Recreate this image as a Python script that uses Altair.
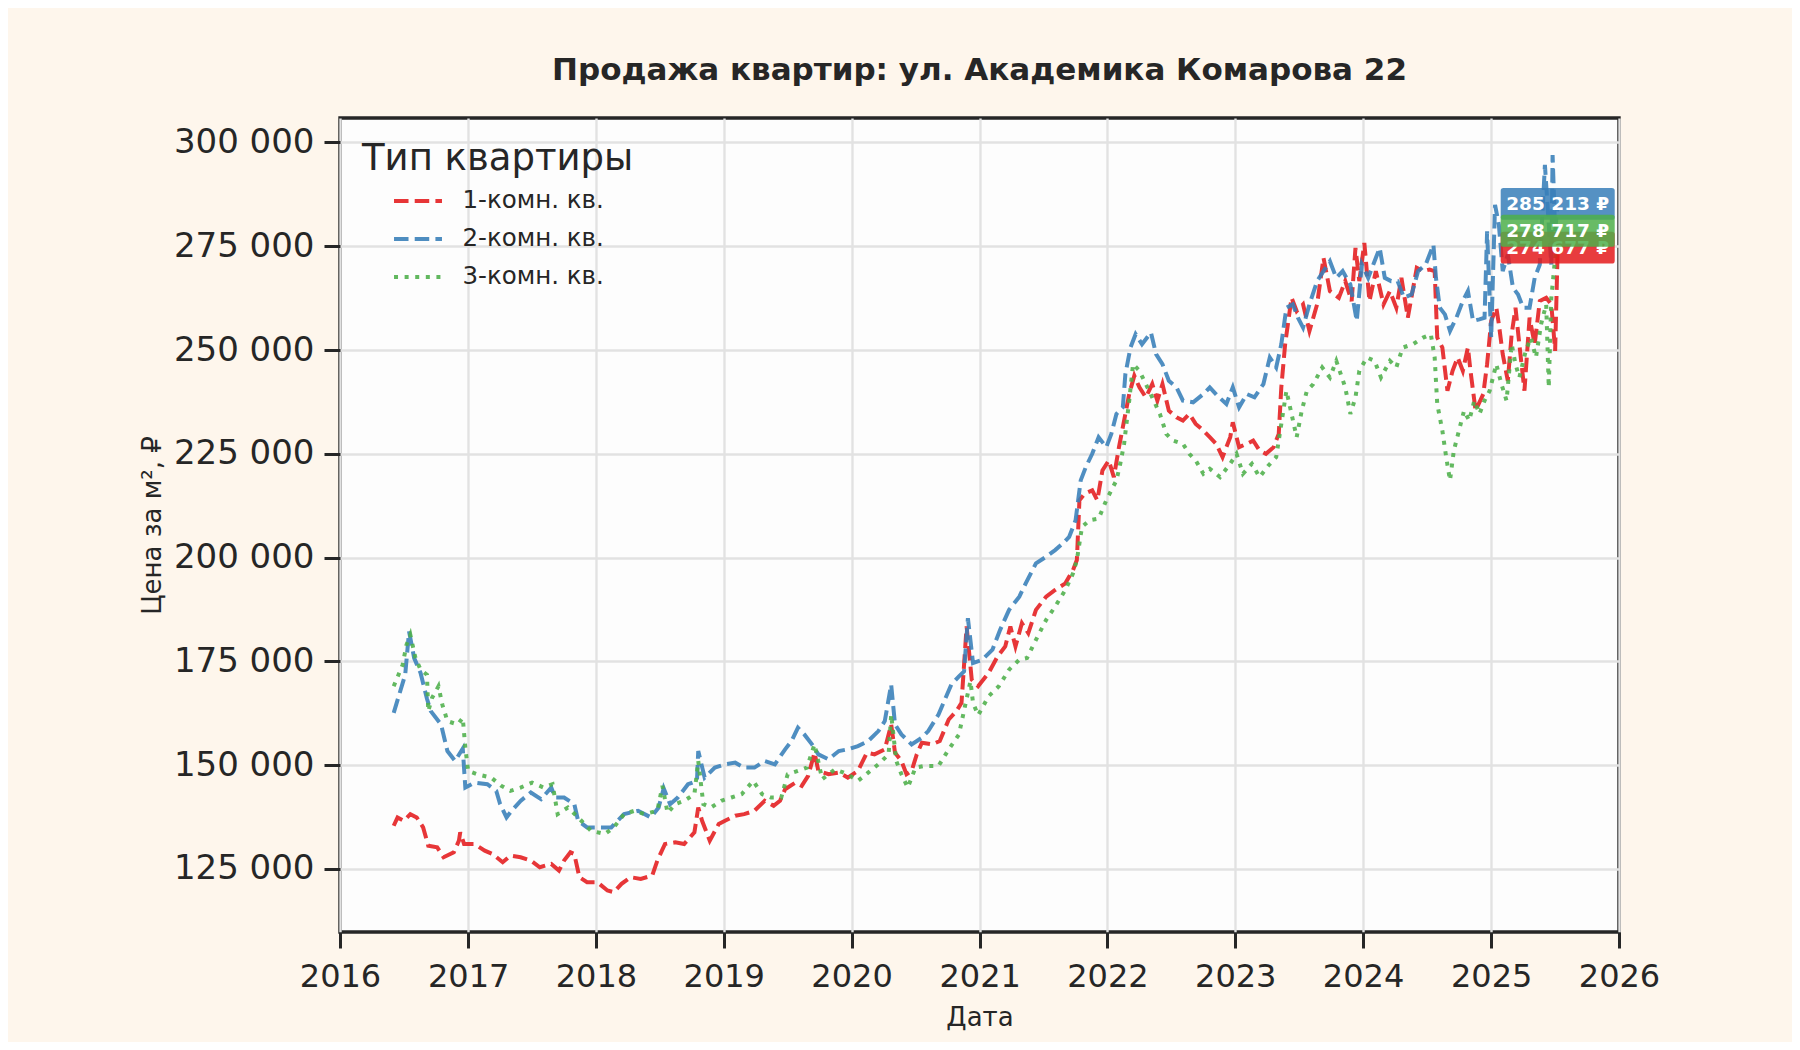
import altair as alt
import pandas as pd

# decimal year -> price per m2 (thousand roubles)
one_room_years = [
    2016.42, 2016.45, 2016.50, 2016.55, 2016.60, 2016.65, 2016.69, 2016.76, 2016.81, 2016.89,
    2016.93, 2016.94, 2016.97, 2017.05, 2017.13, 2017.19, 2017.27, 2017.33, 2017.41, 2017.49,
    2017.56, 2017.65, 2017.71, 2017.75, 2017.80, 2017.83, 2017.87, 2017.93, 2018.01, 2018.09,
    2018.14, 2018.20, 2018.27, 2018.35, 2018.44, 2018.48, 2018.54, 2018.62, 2018.69, 2018.77,
    2018.80, 2018.83, 2018.89, 2018.96, 2019.01, 2019.09, 2019.16, 2019.24, 2019.32, 2019.39,
    2019.44, 2019.48, 2019.56, 2019.61, 2019.66, 2019.71, 2019.74, 2019.82, 2019.90, 2019.97,
    2020.05, 2020.12, 2020.18, 2020.26, 2020.31, 2020.34, 2020.39, 2020.43, 2020.47, 2020.51,
    2020.55, 2020.63, 2020.69, 2020.76, 2020.82, 2020.86, 2020.90, 2020.94, 2020.99, 2021.07,
    2021.14, 2021.20, 2021.24, 2021.28, 2021.33, 2021.38, 2021.44, 2021.52, 2021.59, 2021.67,
    2021.73, 2021.76, 2021.78, 2021.82, 2021.88, 2021.92, 2021.96, 2022.01, 2022.05, 2022.09,
    2022.13, 2022.17, 2022.21, 2022.25, 2022.30, 2022.35, 2022.39, 2022.43, 2022.48, 2022.54,
    2022.59, 2022.64, 2022.69, 2022.75, 2022.80, 2022.85, 2022.90, 2022.96, 2022.98, 2023.03,
    2023.09, 2023.14, 2023.19, 2023.24, 2023.30, 2023.34, 2023.36, 2023.39, 2023.44, 2023.48,
    2023.53, 2023.58, 2023.64, 2023.69, 2023.74, 2023.81, 2023.86, 2023.91, 2023.94, 2023.97,
    2024.01, 2024.05, 2024.10, 2024.16, 2024.21, 2024.26, 2024.30, 2024.35, 2024.42, 2024.47,
    2024.52, 2024.56, 2024.58, 2024.62, 2024.66, 2024.70, 2024.74, 2024.78, 2024.82, 2024.84,
    2024.88, 2024.94, 2024.97, 2025.00, 2025.04, 2025.06, 2025.09, 2025.13, 2025.16, 2025.19,
    2025.22, 2025.26, 2025.30, 2025.34, 2025.38, 2025.43, 2025.47, 2025.50, 2025.52,
]
one_room_prices = [
    135.4, 137.4, 136.6, 138.2, 137.4, 135.0, 130.6, 130.2, 127.8, 129.0,
    131.8, 133.8, 131.0, 131.0, 129.4, 128.6, 126.6, 128.2, 127.8, 127.0,
    125.4, 126.2, 124.6, 127.0, 129.0, 128.6, 123.0, 121.8, 121.8, 119.8,
    119.4, 121.4, 123.0, 122.6, 123.4, 127.0, 131.0, 131.4, 131.0, 133.8,
    139.8, 136.6, 131.8, 135.8, 136.6, 137.8, 138.2, 139.0, 141.4, 140.2,
    141.4, 144.2, 145.8, 145.0, 147.4, 153.0, 148.6, 147.8, 148.2, 147.0,
    148.6, 153.0, 152.6, 153.8, 159.8, 153.0, 151.0, 147.8, 148.6, 152.6,
    155.4, 155.0, 155.8, 161.0, 163.0, 165.0, 183.4, 170.6, 169.0, 172.2,
    176.2, 178.6, 183.4, 178.6, 184.2, 181.8, 187.4, 190.6, 192.2, 193.8,
    197.0, 199.4, 213.8, 215.4, 216.2, 213.8, 221.0, 223.4, 219.4, 226.6,
    233.0, 239.4, 243.8, 241.0, 238.6, 241.8, 237.8, 241.8, 235.4, 233.8,
    233.0, 234.6, 232.2, 230.6, 229.0, 227.4, 224.2, 229.0, 232.6, 226.6,
    227.4, 228.2, 225.8, 225.0, 226.6, 229.8, 241.0, 251.4, 262.6, 259.4,
    261.0, 254.6, 261.0, 272.2, 264.2, 262.6, 266.6, 261.8, 274.6, 266.6,
    275.8, 261.8, 269.0, 261.0, 264.2, 260.2, 267.4, 257.8, 269.8, 269.0,
    269.4, 269.0, 253.0, 250.6, 240.2, 245.0, 248.2, 245.0, 250.6, 245.0,
    235.4, 239.4, 246.6, 257.0, 260.2, 256.2, 249.0, 242.6, 253.8, 260.2,
    251.4, 240.2, 257.8, 251.4, 261.8, 262.6, 261.0, 249.8, 274.677,
]

two_room_years = [
    2016.42, 2016.51, 2016.54, 2016.58, 2016.63, 2016.68, 2016.71, 2016.79, 2016.84, 2016.90,
    2016.96, 2016.98, 2017.05, 2017.15, 2017.22, 2017.25, 2017.30, 2017.34, 2017.41, 2017.49,
    2017.57, 2017.65, 2017.68, 2017.75, 2017.83, 2017.86, 2017.93, 2018.01, 2018.12, 2018.22,
    2018.33, 2018.43, 2018.49, 2018.53, 2018.58, 2018.64, 2018.72, 2018.79, 2018.80, 2018.85,
    2018.93, 2019.01, 2019.09, 2019.16, 2019.24, 2019.32, 2019.40, 2019.48, 2019.53, 2019.58,
    2019.63, 2019.69, 2019.74, 2019.82, 2019.90, 2019.97, 2020.05, 2020.13, 2020.21, 2020.26,
    2020.31, 2020.34, 2020.39, 2020.47, 2020.55, 2020.60, 2020.68, 2020.73, 2020.78, 2020.84,
    2020.88, 2020.91, 2020.95, 2021.02, 2021.10, 2021.16, 2021.23, 2021.31, 2021.36, 2021.44,
    2021.52, 2021.59, 2021.65, 2021.70, 2021.75, 2021.79, 2021.83, 2021.88, 2021.93, 2021.99,
    2022.03, 2022.07, 2022.12, 2022.14, 2022.18, 2022.22, 2022.27, 2022.34, 2022.38, 2022.43,
    2022.48, 2022.54, 2022.59, 2022.67, 2022.75, 2022.80, 2022.86, 2022.93, 2022.98, 2023.03,
    2023.09, 2023.15, 2023.22, 2023.27, 2023.32, 2023.36, 2023.40, 2023.45, 2023.49, 2023.53,
    2023.58, 2023.64, 2023.69, 2023.74, 2023.79, 2023.84, 2023.90, 2023.95, 2023.99, 2024.04,
    2024.09, 2024.13, 2024.17, 2024.22, 2024.27, 2024.32, 2024.38, 2024.43, 2024.49, 2024.55,
    2024.57, 2024.60, 2024.64, 2024.68, 2024.73, 2024.78, 2024.82, 2024.86, 2024.91, 2024.95,
    2024.97, 2025.00, 2025.03, 2025.06, 2025.09, 2025.13, 2025.17, 2025.21, 2025.25, 2025.30,
    2025.34, 2025.38, 2025.42, 2025.44, 2025.47, 2025.48, 2025.50, 2025.52,
]
two_room_prices = [
    162.6, 171.8, 182.2, 175.8, 172.2, 166.0, 163.0, 159.8, 153.4, 151.0,
    154.0, 144.6, 145.8, 145.4, 143.8, 140.6, 137.4, 139.0, 141.4, 143.4,
    141.8, 144.6, 142.2, 142.2, 140.6, 136.6, 135.0, 135.0, 135.0, 138.2,
    139.0, 137.4, 139.8, 144.4, 140.6, 142.2, 145.4, 146.2, 153.4, 147.0,
    149.4, 150.2, 150.6, 149.4, 149.4, 151.0, 150.2, 153.8, 155.8, 159.0,
    157.4, 155.0, 152.6, 151.4, 153.4, 153.8, 154.6, 155.8, 158.2, 160.6,
    169.4, 159.8, 157.4, 155.0, 156.6, 158.2, 162.2, 165.8, 169.4, 171.4,
    172.6, 185.4, 174.6, 175.4, 177.8, 182.6, 187.4, 190.6, 193.8, 198.6,
    200.2, 201.8, 203.4, 205.0, 209.0, 218.6, 221.8, 225.0, 229.0, 226.6,
    229.8, 234.6, 236.2, 244.2, 250.6, 253.8, 251.4, 254.2, 249.0, 246.6,
    242.6, 241.0, 237.8, 237.4, 239.4, 241.0, 239.0, 237.0, 241.0, 236.2,
    239.4, 238.6, 241.8, 248.2, 245.8, 251.4, 260.2, 261.0, 257.8, 255.4,
    261.0, 266.6, 269.0, 271.4, 267.4, 269.0, 265.8, 257.0, 270.6, 267.4,
    271.4, 274.6, 267.4, 266.6, 266.6, 262.6, 263.4, 269.0, 270.6, 275.4,
    267.4, 260.2, 258.6, 254.6, 257.8, 261.8, 264.2, 257.0, 257.4, 257.8,
    278.6, 253.0, 285.0, 280.2, 269.0, 273.0, 265.0, 263.4, 260.2, 260.2,
    267.4, 270.6, 294.6, 285.0, 270.6, 297.0, 278.6, 285.213,
]

three_room_years = [
    2016.42, 2016.49, 2016.52, 2016.55, 2016.59, 2016.63, 2016.68, 2016.69, 2016.72, 2016.77,
    2016.80, 2016.84, 2016.92, 2016.96, 2016.98, 2017.00, 2017.07, 2017.18, 2017.26, 2017.33,
    2017.41, 2017.50, 2017.59, 2017.66, 2017.70, 2017.78, 2017.86, 2017.96, 2018.07, 2018.14,
    2018.22, 2018.30, 2018.38, 2018.48, 2018.52, 2018.56, 2018.62, 2018.69, 2018.77, 2018.80,
    2018.84, 2018.90, 2018.98, 2019.06, 2019.14, 2019.23, 2019.30, 2019.37, 2019.45, 2019.50,
    2019.58, 2019.65, 2019.71, 2019.77, 2019.87, 2019.97, 2020.05, 2020.13, 2020.21, 2020.29,
    2020.31, 2020.35, 2020.39, 2020.44, 2020.50, 2020.57, 2020.68, 2020.76, 2020.84, 2020.89,
    2020.93, 2020.95, 2020.99, 2021.07, 2021.15, 2021.23, 2021.31, 2021.37, 2021.44, 2021.52,
    2021.59, 2021.67, 2021.73, 2021.76, 2021.80, 2021.86, 2021.93, 2021.99, 2022.03, 2022.07,
    2022.10, 2022.13, 2022.17, 2022.20, 2022.25, 2022.30, 2022.35, 2022.41, 2022.46, 2022.51,
    2022.59, 2022.64, 2022.69, 2022.75, 2022.80, 2022.88, 2022.96, 2023.01, 2023.06, 2023.13,
    2023.19, 2023.26, 2023.32, 2023.36, 2023.40, 2023.44, 2023.48, 2023.52, 2023.56, 2023.61,
    2023.68, 2023.74, 2023.79, 2023.86, 2023.90, 2023.94, 2023.97, 2024.03, 2024.09, 2024.14,
    2024.21, 2024.26, 2024.31, 2024.39, 2024.47, 2024.53, 2024.56, 2024.58, 2024.62, 2024.65,
    2024.68, 2024.71, 2024.75, 2024.79, 2024.83, 2024.87, 2024.91, 2024.95, 2024.99, 2025.04,
    2025.08, 2025.12, 2025.16, 2025.19, 2025.22, 2025.27, 2025.31, 2025.35, 2025.39, 2025.43,
    2025.45, 2025.47, 2025.49, 2025.52,
]
three_room_prices = [
    169.0, 174.2, 179.0, 181.4, 175.8, 173.0, 171.8, 163.0, 166.2, 169.0,
    164.6, 160.6, 159.8, 161.4, 154.2, 148.6, 147.8, 147.0, 145.0, 143.8,
    144.6, 145.8, 144.6, 145.4, 138.2, 139.8, 137.4, 134.2, 133.4, 135.0,
    138.2, 139.0, 138.2, 139.0, 145.0, 138.5, 140.6, 141.4, 143.0, 151.0,
    140.6, 139.8, 141.4, 142.2, 143.0, 146.2, 143.0, 142.2, 142.2, 147.8,
    148.6, 149.4, 155.0, 146.6, 149.0, 147.8, 146.2, 148.2, 150.2, 152.6,
    162.2, 151.0, 147.8, 144.6, 149.4, 149.8, 149.8, 153.8, 157.4, 164.6,
    170.2, 165.0, 162.0, 166.6, 169.0, 173.0, 175.4, 175.8, 180.2, 185.0,
    188.2, 192.2, 196.2, 199.4, 207.4, 209.0, 209.4, 213.8, 216.2, 218.6,
    222.6, 227.4, 237.8, 246.6, 245.0, 241.8, 238.6, 234.6, 229.8, 228.2,
    227.4, 225.0, 223.4, 220.2, 221.4, 219.4, 222.6, 225.0, 220.2, 222.6,
    219.4, 222.2, 224.2, 232.2, 240.2, 234.6, 229.0, 235.4, 240.2, 241.8,
    245.8, 243.4, 247.4, 241.0, 234.6, 238.6, 245.0, 248.2, 247.4, 243.4,
    247.4, 245.8, 250.6, 251.4, 253.0, 253.8, 248.2, 237.0, 230.6, 224.2,
    218.6, 225.8, 230.6, 235.4, 233.0, 237.8, 234.6, 237.8, 240.2, 246.6,
    241.8, 237.8, 251.4, 246.6, 243.4, 249.8, 253.0, 248.2, 256.2, 261.0,
    241.0, 262.6, 269.0, 278.717,
]

type_names = ["1-комн. кв.", "2-комн. кв.", "3-комн. кв."]
type_colors = ["#e41a1c", "#377eb8", "#4daf4a"]
type_dashes = [[14.5, 6.2], [14.5, 6.2], [4, 6.6]]

INK = "#262626"
FONT = "DejaVu Sans"


def year_to_date(y):
    whole = int(y)
    return pd.Timestamp(year=whole, month=1, day=1) + pd.Timedelta(days=(y - whole) * 365.25)


series = [
    (type_names[0], one_room_years, one_room_prices),
    (type_names[1], two_room_years, two_room_prices),
    (type_names[2], three_room_years, three_room_prices),
]

rows = []
for name, years, prices in series:
    for y, p in zip(years, prices):
        rows.append({"date": year_to_date(y), "price": round(p * 1000), "type": name})
df = pd.DataFrame(rows)

last_rows = []
for name, years, prices in series:
    v = round(prices[-1] * 1000)
    last_rows.append({
        "date": year_to_date(years[-1]),
        "price": v,
        "type": name,
        "label": f"{v:,}".replace(",", " ") + " ₽",
    })
last_df = pd.DataFrame(last_rows)

x_scale = alt.Scale(domain=[alt.DateTime(year=2016, month=1, date=1),
                            alt.DateTime(year=2026, month=1, date=1)])
y_scale = alt.Scale(domain=[109800, 305900], nice=False, zero=False)

lines = alt.Chart(df).mark_line(strokeWidth=4, opacity=0.88, strokeCap="butt").encode(
    x=alt.X("date:T", scale=x_scale, title="Дата",
            axis=alt.Axis(values=[alt.DateTime(year=y, month=1, date=1) for y in range(2016, 2027)],
                          format="%Y", labelOverlap=False, labelFlush=False)),
    y=alt.Y("price:Q", scale=y_scale, title="Цена за м², ₽",
            axis=alt.Axis(values=list(range(125000, 300001, 25000)), labelFontSize=34,
                          labelExpr="replace(format(datum.value, ','), ',', ' ')")),
    color=alt.Color("type:N", scale=alt.Scale(domain=type_names, range=type_colors),
                    legend=alt.Legend(title="Тип квартиры")),
    strokeDash=alt.StrokeDash("type:N", scale=alt.Scale(domain=type_names, range=type_dashes),
                              legend=alt.Legend(title="Тип квартиры")),
)

# rounded box behind each end label, drawn as a custom symbol
box_path = ("M-0.95,-0.28H0.95Q1,-0.28 1,-0.23V0.23Q1,0.28 0.95,0.28"
            "H-0.95Q-1,0.28 -1,0.23V-0.23Q-1,-0.28 -0.95,-0.28Z")

layers = [lines]
for name, color in zip(type_names, type_colors):
    one = alt.Chart(last_df).transform_filter(alt.datum.type == name)
    box = one.mark_point(shape=box_path, filled=True, size=13000, opacity=0.85,
                         strokeWidth=0, color=color).encode(x="date:T", y="price:Q")
    txt = one.mark_text(color="white", fontWeight="bold", fontSize=18.5, font=FONT,
                        align="center", baseline="middle").encode(
        x="date:T", y="price:Q", text="label:N")
    layers += [box, txt]

chart = alt.layer(*layers).properties(
    width=1279,
    height=814,
    autosize=alt.AutoSizeParams(type="none"),
    padding={"left": 332, "top": 110, "right": 173, "bottom": 110},
    title=alt.TitleParams("Продажа квартир: ул. Академика Комарова 22", fontSize=31,
                          fontWeight="bold", color=INK, font=FONT, anchor="middle", offset=31),
).configure(
    background="#fef6ec",
    font=FONT,
).configure_view(
    fill="#fdfdfd", stroke=INK, strokeWidth=3.4,
).configure_axis(
    domain=False, grid=True, gridColor="#e2e2e2", gridWidth=2.4,
    tickSize=16, tickWidth=3, tickColor=INK,
    labelFontSize=32, labelColor=INK, labelFont=FONT, labelPadding=10,
    titleFontSize=26, titleFontWeight="normal", titleColor=INK, titleFont=FONT,
).configure_axisY(
    titlePadding=8,
).configure_axisX(
    titlePadding=12, labelPadding=13,
).configure_legend(
    orient="none", legendX=22, legendY=23, padding=0,
    titleFontSize=37, titleFontWeight="normal", titleColor=INK, titleFont=FONT,
    titlePadding=-3, titleLimit=600,
    labelFontSize=24.5, labelColor=INK, labelFont=FONT, labelOffset=18.5, labelLimit=400,
    symbolType="stroke", symbolSize=2300, symbolStrokeWidth=4, symbolOffset=30,
    rowPadding=0,
)

chart.save("out.html", embed_options={"renderer": "svg", "actions": False})
